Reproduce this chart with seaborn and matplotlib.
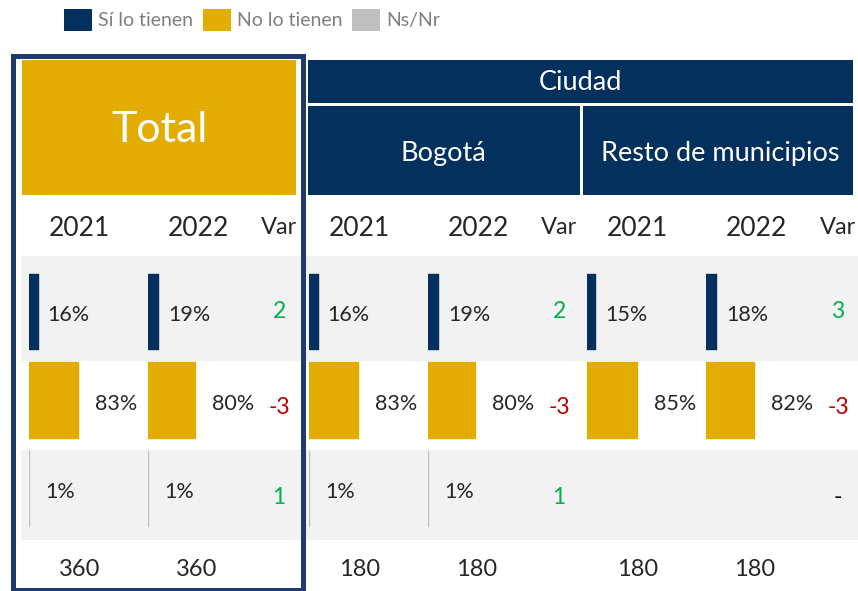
import matplotlib
matplotlib.use("Agg")
import matplotlib.pyplot as plt
from matplotlib.patches import Rectangle, Patch
import seaborn as sns
import pandas as pd

# ---------------- data ----------------
groups = ["Total", "Bogotá", "Resto de municipios"]
super_header = "Ciudad"
years = ["2021", "2022"]
categories = ["Sí lo tienen", "No lo tienen", "Ns/Nr"]

si_2021 = [16, 16, 15]
si_2022 = [19, 19, 18]
no_2021 = [83, 83, 85]
no_2022 = [80, 80, 82]
ns_2021 = [1, 1, 0]
ns_2022 = [1, 1, 0]

var_si = ["2", "2", "3"]
var_no = ["-3", "-3", "-3"]
var_ns = ["1", "1", "-"]

n_2021 = [360, 180, 180]
n_2022 = [360, 180, 180]

# ---------------- style ----------------
NAVY = "#03305C"
GOLD = "#E3AC00"
GRAY = "#BFBFBF"
BAND = "#F2F2F2"
FRAME = "#1F3A6E"
GREEN = "#00B050"
RED = "#C00000"
cat_colors = dict(zip(categories, [NAVY, GOLD, GRAY]))

sns.set_style("white")
plt.rcParams["font.family"] = ["Lato", "DejaVu Sans"]

W, H = 858, 591
fig = plt.figure(figsize=(W / 100, H / 100), dpi=100)
bg = fig.add_axes([0, 0, 1, 1])
bg.set_xlim(0, W)
bg.set_ylim(H, 0)
bg.axis("off")


def frac(x, y, w, h):
    return [x / W, 1 - (y + h) / H, w / W, h / H]


# background bands
bg.add_patch(Rectangle((21, 256), W - 21, 105, color=BAND, lw=0, zorder=0))
bg.add_patch(Rectangle((21, 450), W - 21, 90, color=BAND, lw=0, zorder=0))

# header boxes
bg.add_patch(Rectangle((22, 60), 274, 135, color=GOLD, lw=0))
bg.add_patch(Rectangle((308, 60), 545, 43, color=NAVY, lw=0))
bg.add_patch(Rectangle((308, 106), 272, 89, color=NAVY, lw=0))
bg.add_patch(Rectangle((583, 106), 270, 89, color=NAVY, lw=0))

bg.text(160, 130, groups[0], color="white", fontsize=31, ha="center", va="center")
bg.text(580.5, 83, super_header, color="white", fontsize=19.5, ha="center", va="center")
bg.text(443, 153, groups[1], color="white", fontsize=19.5, ha="center", va="center")
bg.text(720, 153, groups[2], color="white", fontsize=19.5, ha="center", va="center")

# column positions (left edge of bars for each group)
bar_left = [[29, 148], [309, 428], [587, 706]]
var_x = [279, 559, 838]

for g in range(3):
    for k, yr in enumerate(years):
        bg.text(bar_left[g][k] + 50, 229, yr, fontsize=19, ha="center", va="center")
    bg.text(var_x[g], 227, "Var", fontsize=17, ha="center", va="center")

# bars
year_data = [
    [si_2021, no_2021, ns_2021],
    [si_2022, no_2022, ns_2022],
]
ytop, ybot = 267.75, 533.25
for g in range(3):
    for k in range(2):
        vals = [year_data[k][c][g] for c in range(3)]
        df = pd.DataFrame({"cat": categories, "val": vals})
        ax = fig.add_axes(frac(bar_left[g][k], ytop, 60, ybot - ytop))
        ax.patch.set_visible(False)
        sns.barplot(data=df, x="val", y="cat", hue="cat", order=categories,
                    hue_order=categories, palette=cat_colors, orient="h",
                    width=0.87, saturation=1, legend=False, ax=ax, linewidth=0)
        for p in ax.patches:
            if p.get_width() > 0:
                p.set_edgecolor(p.get_facecolor())
                p.set_linewidth(0.3)
        ax.set_xlim(0, 100)
        ax.set_ylim(2.5, -0.5)
        ax.axis("off")
        for i, v in enumerate(vals):
            if v > 0:
                dx = 9 if i == 0 else 16
                ax.annotate(f"{v}%", xy=(v, i), xytext=(dx, -3),
                            textcoords="offset pixels", ha="left", va="center",
                            fontsize=15.5, annotation_clip=False)

# variation column
var_rows = [var_si, var_no, var_ns]
var_y = [311, 408, 497]
for g in range(3):
    for r in range(3):
        s = var_rows[r][g]
        col = "black" if s == "-" else (RED if s.startswith("-") else GREEN)
        bg.text(var_x[g], var_y[r], s, color=col, fontsize=16.5, ha="center", va="center")

# bases
for g in range(3):
    bg.text(bar_left[g][0] + 51, 570, str(n_2021[g]), fontsize=17, ha="center", va="center")
    bg.text(bar_left[g][1] + 49, 570, str(n_2022[g]), fontsize=17, ha="center", va="center")

# total frame
bg.add_patch(Rectangle((12.5, 55.5), 290, 534, fill=False, edgecolor=FRAME, lw=3.6, zorder=5))

# legend
handles = [Patch(facecolor=cat_colors[c], edgecolor="none", label=c) for c in categories]
fig.legend(handles=handles, loc="center", bbox_to_anchor=(252 / W, 1 - 20 / H), ncol=3,
           frameon=False, fontsize=14, labelcolor="#7F7F7F", handlelength=1.45,
           handleheight=1.35, handletextpad=0.3, columnspacing=0.5, borderpad=0,
           borderaxespad=0)

fig.savefig("out.png", dpi=100)
